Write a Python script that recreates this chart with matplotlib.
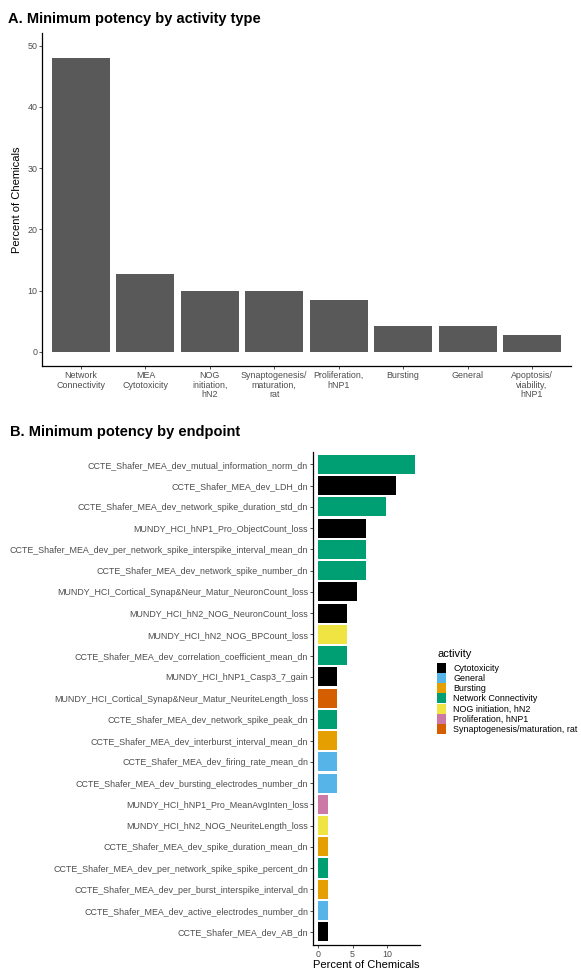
import matplotlib
matplotlib.use("Agg")
import matplotlib.pyplot as plt
from matplotlib.patches import Patch

plt.rcParams['font.family'] = ['Liberation Sans', 'DejaVu Sans']

# panel A data
activity_types = ["Network\nConnectivity", "MEA\nCytotoxicity", "NOG\ninitiation,\nhN2",
                  "Synaptogenesis/\nmaturation,\nrat", "Proliferation,\nhNP1", "Bursting",
                  "General", "Apoptosis/\nviability,\nhNP1"]
activity_pct = [47.9, 12.7, 9.9, 9.9, 8.5, 4.2, 4.2, 2.8]

# panel B data
endpoints = [
    "CCTE_Shafer_MEA_dev_mutual_information_norm_dn",
    "CCTE_Shafer_MEA_dev_LDH_dn",
    "CCTE_Shafer_MEA_dev_network_spike_duration_std_dn",
    "MUNDY_HCI_hNP1_Pro_ObjectCount_loss",
    "CCTE_Shafer_MEA_dev_per_network_spike_interspike_interval_mean_dn",
    "CCTE_Shafer_MEA_dev_network_spike_number_dn",
    "MUNDY_HCI_Cortical_Synap&Neur_Matur_NeuronCount_loss",
    "MUNDY_HCI_hN2_NOG_NeuronCount_loss",
    "MUNDY_HCI_hN2_NOG_BPCount_loss",
    "CCTE_Shafer_MEA_dev_correlation_coefficient_mean_dn",
    "MUNDY_HCI_hNP1_Casp3_7_gain",
    "MUNDY_HCI_Cortical_Synap&Neur_Matur_NeuriteLength_loss",
    "CCTE_Shafer_MEA_dev_network_spike_peak_dn",
    "CCTE_Shafer_MEA_dev_interburst_interval_mean_dn",
    "CCTE_Shafer_MEA_dev_firing_rate_mean_dn",
    "CCTE_Shafer_MEA_dev_bursting_electrodes_number_dn",
    "MUNDY_HCI_hNP1_Pro_MeanAvgInten_loss",
    "MUNDY_HCI_hN2_NOG_NeuriteLength_loss",
    "CCTE_Shafer_MEA_dev_spike_duration_mean_dn",
    "CCTE_Shafer_MEA_dev_per_network_spike_spike_percent_dn",
    "CCTE_Shafer_MEA_dev_per_burst_interspike_interval_dn",
    "CCTE_Shafer_MEA_dev_active_electrodes_number_dn",
    "CCTE_Shafer_MEA_dev_AB_dn",
]
endpoint_pct = [14.1, 11.3, 9.9, 7.0, 7.0, 7.0, 5.6, 4.2, 4.2, 4.2,
                2.8, 2.8, 2.8, 2.8, 2.8, 2.8,
                1.4, 1.4, 1.4, 1.4, 1.4, 1.4, 1.4]
endpoint_activity = [
    "Network Connectivity", "Cytotoxicity", "Network Connectivity", "Cytotoxicity",
    "Network Connectivity", "Network Connectivity", "Cytotoxicity", "Cytotoxicity",
    "NOG initiation, hN2", "Network Connectivity", "Cytotoxicity",
    "Synaptogenesis/maturation, rat", "Network Connectivity", "Bursting", "General",
    "General", "Proliferation, hNP1", "NOG initiation, hN2", "Bursting",
    "Network Connectivity", "Bursting", "General", "Cytotoxicity",
]
legend_order = ["Cytotoxicity", "General", "Bursting", "Network Connectivity",
                "NOG initiation, hN2", "Proliferation, hNP1", "Synaptogenesis/maturation, rat"]
palette = {
    "Cytotoxicity": "#000000",
    "General": "#56B4E9",
    "Bursting": "#E69F00",
    "Network Connectivity": "#009E73",
    "NOG initiation, hN2": "#F0E442",
    "Proliferation, hNP1": "#CC79A7",
    "Synaptogenesis/maturation, rat": "#D55E00",
}

W, H = 581, 971
fig = plt.figure(figsize=(W / 100, H / 100), dpi=100)


def px_axes(left, top, right, bottom):
    return fig.add_axes([left / W, 1 - bottom / H, (right - left) / W, (bottom - top) / H])


def classic(ax):
    for s in ['top', 'right']:
        ax.spines[s].set_visible(False)
    for s in ['left', 'bottom']:
        ax.spines[s].set_linewidth(0.9)
    ax.tick_params(length=2.0, width=0.6, color='#333333', pad=1.6,
                   labelsize=6.4, labelcolor='#4D4D4D')


# ---- A ----
fig.text(8 / W, 1 - 18.5 / H, "A. Minimum potency by activity type",
         fontsize=10.5, fontweight='bold', va='center', ha='left')
axA = px_axes(42.3, 33.3, 570.7, 366)
axA.bar(range(len(activity_types)), activity_pct, width=0.9, color='#595959')
axA.set_xlim(-0.6, len(activity_types) - 0.4)
axA.set_ylim(-2.3, 52)
axA.set_yticks([0, 10, 20, 30, 40, 50])
axA.set_xticks(range(len(activity_types)))
axA.set_xticklabels(activity_types, linespacing=1.1)
classic(axA)
fig.text(17 / W, 1 - 200 / H, "Percent of Chemicals", rotation=90,
         fontsize=8, ha='center', va='center')

# ---- B ----
fig.text(10 / W, 1 - 431.7 / H, "B. Minimum potency by endpoint",
         fontsize=10.5, fontweight='bold', va='center', ha='left')
axB = px_axes(313.2, 451.7, 420, 944.5)
n = len(endpoints)
axB.barh(range(n), endpoint_pct, height=0.9,
         color=[palette[a] for a in endpoint_activity])
axB.set_ylim(n - 1 + 0.6, -0.6)
axB.set_xlim(-0.70, 14.79)
axB.set_yticks(range(n))
axB.set_yticklabels(endpoints)
axB.set_xticks([0, 5, 10])
classic(axB)
fig.text(366.6 / W, 1 - 965 / H, "Percent of Chemicals", fontsize=8,
         ha='center', va='center')

# legend, title drawn separately for spacing
fig.text(437 / W, 1 - 654 / H, "activity", fontsize=8, ha='left', va='center')
handles = [Patch(facecolor=palette[k], edgecolor='none', label=k)
           for k in legend_order]
leg = fig.legend(handles=handles, loc='upper left',
                 bbox_to_anchor=(437 / W, 1 - 663 / H), frameon=False,
                 fontsize=6.4, borderpad=0, borderaxespad=0,
                 handlelength=1.05, handleheight=1.35, labelspacing=0.02,
                 handletextpad=0.8)

fig.savefig("out.png", dpi=100)
